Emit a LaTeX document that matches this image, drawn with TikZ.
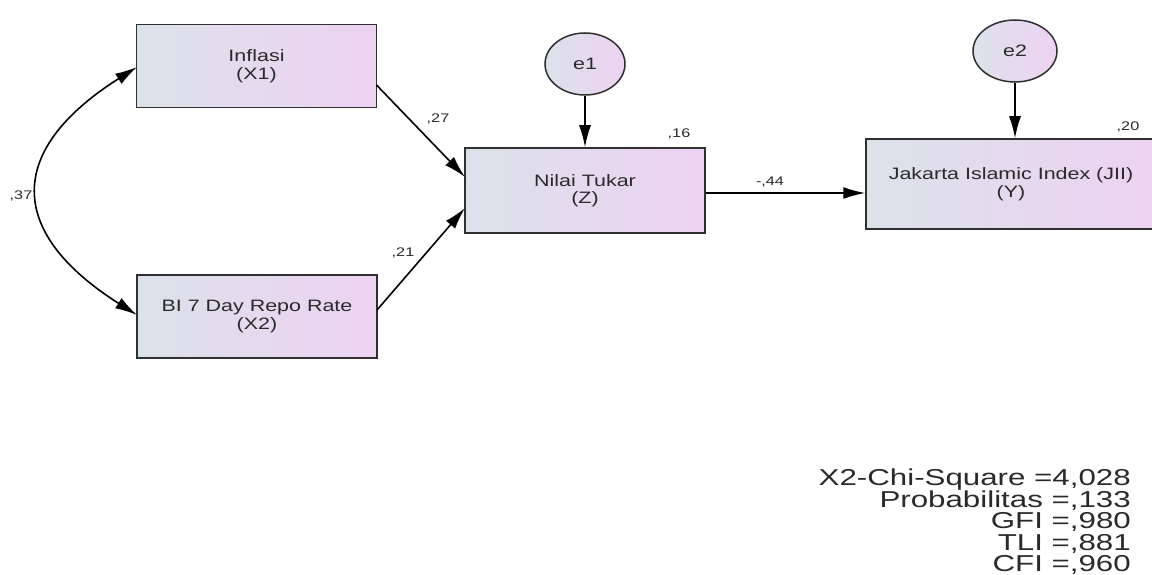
\documentclass[tikz,border=0pt]{standalone}
\usepackage{fontspec}
\setmainfont{Liberation Sans}[FakeStretch=1.3]
\newfontfamily\fitfont{Liberation Sans}[FakeStretch=1.36]
\usetikzlibrary{arrows.meta,shapes.geometric}
\definecolor{boxL}{HTML}{DCE2EA}
\definecolor{boxR}{HTML}{EDD2F2}
\definecolor{txt}{HTML}{2A2A2A}
\definecolor{edge}{HTML}{303030}
\tikzset{
  var/.style={draw=edge, line width=1.5pt, left color=boxL, right color=boxR,
    minimum width=240pt, minimum height=83pt, align=center, text=txt,
    font=\fontsize{16.5}{17.5}\selectfont, inner sep=0pt},
  err/.style={ellipse, draw=edge, line width=1.5pt, left color=boxL, right color=boxR,
    text=txt, font=\fontsize{16.5}{17.5}\selectfont, inner sep=0pt},
  path/.style={draw=black, line width=1.6pt, -{Latex[length=22pt,width=12pt]}},
  cov/.style={draw=black, line width=1.6pt, {Latex[length=22pt,width=12pt]}-{Latex[length=22pt,width=12pt]}},
  coef/.style={text=txt, font=\fontsize{12.5}{13}\selectfont, inner sep=0pt},
  fit/.style={text=txt, font=\fitfont\fontsize{23}{21.5}\selectfont, align=right, anchor=north east, inner sep=0pt}
}
\begin{document}
\begin{tikzpicture}[x=1pt,y=-1pt]
\useasboundingbox[fill=white] (0,0) rectangle (1152,575);
\node[var] (x1) at (256.5,66) {Inflasi\\(X1)};
\node[var] (x2) at (257,316.5) {BI 7 Day Repo Rate\\(X2)};
\node[var, minimum height=85pt] (z) at (585,190.5) {Nilai Tukar\\(Z)};
\node[var, minimum width=290pt, minimum height=90pt] (y) at (1011,184) {Jakarta Islamic Index (JII)\\(Y)};
\node[err, minimum width=80pt, minimum height=62pt] (e1) at (585,64) {e1};
\node[err, minimum width=84pt, minimum height=62pt] (e2) at (1015,51) {e2};

\coordinate (c1s) at (137,67);
\coordinate (c1e) at (137,315);
\draw[cov] (c1e) .. controls (6,232) and (6,150) .. (c1s);

\coordinate (x1o) at (376.5,85);
\coordinate (x2o) at (377,310);
\coordinate (z1i) at (465,177);
\coordinate (z2i) at (465,208);
\draw[path] (x1o) -- (z1i);
\draw[path] (x2o) -- (z2i);
\draw[path] (z.east |- 0,193) -- (y.west |- 0,193);
\draw[path] (e1.south) -- (z.north -| e1.south);
\draw[path] (e2.south) -- (y.north -| e2.south);

\node[coef] (l37) at (21,196) {,37};
\node[coef] (l27) at (438,119) {,27};
\node[coef] (l21) at (403,253) {,21};
\node[coef] (l16) at (679,134) {,16};
\node[coef] (l44) at (770,182) {-,44};
\node[coef] (l20) at (1128,127) {,20};

\node[fit] (fitidx) at (1131,469) {X2-Chi-Square =4,028\\Probabilitas =,133\\GFI =,980\\TLI =,881\\CFI =,960};
\end{tikzpicture}
\end{document}
